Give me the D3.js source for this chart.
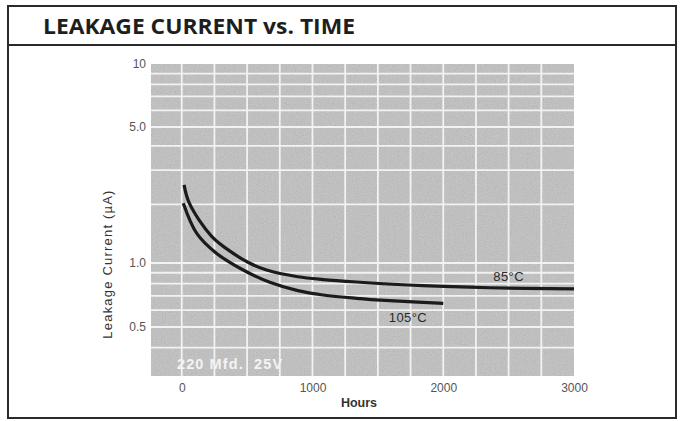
<!DOCTYPE html>
<html>
<head>
<meta charset="utf-8">
<script src="https://cdn.jsdelivr.net/npm/d3@7/dist/d3.min.js"></script>
<style>
  html, body { margin: 0; padding: 0; background: #fff; }
  svg { display: block; }
</style>
</head>
<body>
<svg id="chart" width="684" height="421"></svg>
<script>
// ---- data ----
const title = "LEAKAGE CURRENT vs. TIME";
const xTickValues = [0, 1000, 2000, 3000];
const xTickLabels = ["0", "1000", "2000", "3000"];
const yTickValues = [10, 5, 1, 0.5];
const yTickLabels = ["10", "5.0", "1.0", "0.5"];
const xGridValues = [0, 250, 500, 750, 1000, 1250, 1500, 1750, 2000, 2250, 2500, 2750];
const yGridValues = [9, 8, 7, 6, 5, 4, 3, 2, 1, 0.9, 0.8, 0.7, 0.6, 0.5, 0.4];

const hours85   = [18, 58, 229, 394, 521, 649, 888, 1081, 1336, 1844, 2353, 3000];
const current85 = [2.52, 2.03, 1.37, 1.12, 0.997, 0.927, 0.862, 0.836, 0.814, 0.782, 0.765, 0.755];
const hours105   = [12, 115, 267, 470, 674, 888, 1081, 1336, 1590, 2000];
const current105 = [2.03, 1.42, 1.12, 0.927, 0.811, 0.741, 0.707, 0.682, 0.665, 0.646];

const seriesNames = ["85°C", "105°C"];
const labelHours = [2500, 1730];
const labelCurrent = [0.86, 0.557];
const noteText = "220 Mfd.  25V";
const xTitle = "Hours";
const yTitle = "Leakage Current (µA)";

// ---- layout ----
const svg = d3.select("#chart");
const plotL = 151, plotR = 574, plotT = 64, plotB = 376;

const x = d3.scaleLinear().domain([-235, 3000]).range([plotL, plotR]);
// printed grid is not perfectly uniform: piecewise log scale
const y = d3.scaleLog().domain([10, 5, 1, 0.5]).range([64, 127, 263, 327]);
const yBottom = y.invert(plotB);

// frame
svg.append("rect").attr("x", 8).attr("y", 6).attr("width", 668).attr("height", 412)
  .attr("fill", "#fff").attr("stroke", "#2a2a2a").attr("stroke-width", 2);
svg.append("line").attr("x1", 8).attr("x2", 676).attr("y1", 45).attr("y2", 45)
  .attr("stroke", "#2a2a2a").attr("stroke-width", 2);

svg.append("text").attr("x", 43).attr("y", 34)
  .attr("font-family", "'Open Sans', 'DejaVu Sans', sans-serif")
  .attr("font-weight", 700).attr("font-size", 21.5).attr("fill", "#1e1e1e")
  .attr("textLength", 312).attr("lengthAdjust", "spacingAndGlyphs")
  .text(title);

// noise filter for the printed gray screen
const defs = svg.append("defs");
const f = defs.append("filter").attr("id", "noise")
  .attr("x", 0).attr("y", 0).attr("width", "100%").attr("height", "100%")
  .attr("filterUnits", "objectBoundingBox");
f.append("feTurbulence").attr("type", "fractalNoise").attr("baseFrequency", 0.9)
  .attr("numOctaves", 3).attr("seed", 7).attr("result", "t");
f.append("feColorMatrix").attr("in", "t").attr("type", "matrix")
  .attr("values", "0.5 0.5 0 0 0  0.5 0.5 0 0 0  0.5 0.5 0 0 0  0 0 0 0 1");

const plot = svg.append("g");
plot.append("rect").attr("x", x(-235)).attr("y", y(10))
  .attr("width", x(3000) - x(-235)).attr("height", y(yBottom) - y(10))
  .attr("fill", "#c1c1c1");
plot.append("rect").attr("x", x(-235)).attr("y", y(10))
  .attr("width", x(3000) - x(-235)).attr("height", y(yBottom) - y(10))
  .attr("fill", "#fff")
  .attr("filter", "url(#noise)").attr("opacity", 0.22);

// grid
plot.selectAll("line.vg").data(xGridValues).join("line").attr("class", "vg")
  .attr("x1", d => x(d)).attr("x2", d => x(d))
  .attr("y1", y(10)).attr("y2", y(yBottom))
  .attr("stroke", "#f2f2f2").attr("stroke-width", 1.8);
plot.selectAll("line.hg").data(yGridValues).join("line").attr("class", "hg")
  .attr("x1", x(-235)).attr("x2", x(3000))
  .attr("y1", d => y(d)).attr("y2", d => y(d))
  .attr("stroke", "#f2f2f2").attr("stroke-width", 1.8);

// note
svg.append("text").attr("x", 177).attr("y", 369)
  .attr("font-family", "'Liberation Sans', Arial, sans-serif")
  .attr("font-weight", 700)
  .attr("font-size", 14.5).attr("fill", "#f4f4f4").attr("letter-spacing", 1.1)
  .style("white-space", "pre").text(noteText);

// curves
const line = d3.line().x(d => x(d[0])).y(d => y(d[1])).curve(d3.curveCatmullRom.alpha(0.5));
const series = [
  d3.zip(hours85, current85),
  d3.zip(hours105, current105)
];
svg.selectAll("path.curve").data(series).join("path").attr("class", "curve")
  .attr("d", line).attr("fill", "none").attr("stroke", "#1b1b1b")
  .attr("stroke-width", 3.2).attr("stroke-linecap", "butt");

svg.selectAll("text.slab").data(seriesNames).join("text").attr("class", "slab")
  .attr("x", (d, i) => x(labelHours[i])).attr("y", (d, i) => y(labelCurrent[i]))
  .attr("text-anchor", "middle").attr("dominant-baseline", "central")
  .attr("font-family", "'Liberation Sans', Arial, sans-serif")
  .attr("font-size", 13).attr("letter-spacing", 0.4).attr("fill", "#2a2a2a")
  .text(d => d);

// axes (labels only, no domain lines)
const xAxis = d3.axisBottom(x).tickValues(xTickValues)
  .tickFormat((d, i) => xTickLabels[i]).tickSize(0).tickPadding(0);
const gx = svg.append("g").attr("transform", `translate(0,${plotB + 7})`).call(xAxis);
gx.select(".domain").remove();
gx.selectAll("text").attr("font-family", "'Liberation Sans', Arial, sans-serif")
  .attr("font-size", 12).attr("fill", "#555").attr("dy", "0.71em");

const yAxis = d3.axisLeft(y).tickValues(yTickValues)
  .tickFormat((d, i) => yTickLabels[i]).tickSize(0).tickPadding(0);
const gy = svg.append("g").attr("transform", `translate(${plotL - 5},0)`).call(yAxis);
gy.select(".domain").remove();
gy.selectAll("text").attr("font-family", "'Liberation Sans', Arial, sans-serif")
  .attr("font-size", 12).attr("fill", "#555");

svg.append("text").attr("x", 359).attr("y", 407).attr("text-anchor", "middle")
  .attr("font-family", "'Liberation Sans', Arial, sans-serif")
  .attr("font-weight", 700).attr("font-size", 12.5).attr("fill", "#333")
  .text(xTitle);

svg.append("text").attr("transform", "translate(112,264) rotate(-90)")
  .attr("text-anchor", "middle")
  .attr("font-family", "'Liberation Sans', Arial, sans-serif")
  .attr("font-size", 13).attr("letter-spacing", 1.2).attr("fill", "#333")
  .text(yTitle);
</script>
</body>
</html>
